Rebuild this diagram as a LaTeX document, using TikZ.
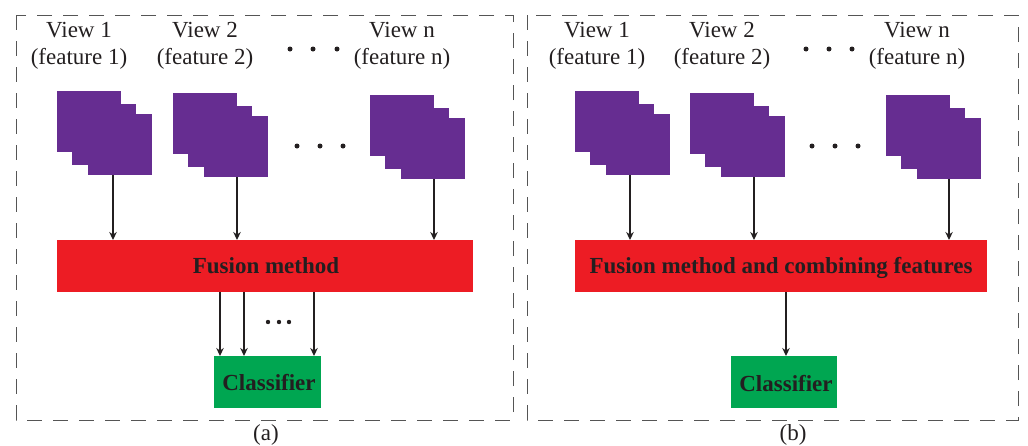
\documentclass[tikz,border=0pt]{standalone}
\usepackage{fontspec}
\setmainfont{Liberation Serif}
\usetikzlibrary{arrows.meta}
\definecolor{vpurple}{HTML}{662D91}
\definecolor{fred}{HTML}{ED1C24}
\definecolor{cgreen}{HTML}{00A651}
\definecolor{ink}{HTML}{231F20}
\definecolor{dashc}{HTML}{555555}
\tikzset{
  sq/.style={fill=vpurple, minimum width=64pt, minimum height=61pt, inner sep=0pt, anchor=north west},
  lbl/.style={font=\fontsize{23}{27}\selectfont, text=ink, anchor=base, inner sep=0pt},
  blbl/.style={font=\fontsize{23}{27}\selectfont\bfseries, text=ink, anchor=base, inner sep=0pt},
  fusionbox/.style={fill=fred, anchor=north west, inner sep=0pt},
  clsbox/.style={fill=cgreen, anchor=north west, inner sep=0pt},
  arr/.style={draw=ink, line width=1.2pt, -{Stealth[length=8pt,width=7.5pt]}},
  panel/.style={draw=dashc, line width=1pt, dash pattern=on 15pt off 11pt},
  dotc/.style={fill=ink}
}
\newcommand\mystack[3]{%
  \node[sq] (#1b) at (#2,#3) {};
  \node[sq] (#1m) at (#2+15,#3+13) {};
  \node[sq] (#1f) at (#2+31,#3+23) {};
}
\begin{document}
\begin{tikzpicture}[x=1pt,y=-1pt]
\useasboundingbox (0,0) rectangle (1028,445);
% panels
\draw[panel] (16,15) rectangle (513,420);
\draw[panel] (527,15) rectangle (1018,420);

% ---------- panel (a) ----------
\node[lbl] (a1v) at (79,37) {View 1};
\node[lbl] (a1f) at (79,64) {(feature 1)};
\node[lbl] (a2v) at (205,37) {View 2};
\node[lbl] (a2f) at (205,64) {(feature 2)};
\node[lbl] (anv) at (402,37) {View n};
\node[lbl] (anf) at (402,64) {(feature n)};
\foreach \x in {290,313,337} \fill[dotc] (\x,49) circle (2.5);

\mystack{aA}{57}{91}
\mystack{aB}{173}{93}
\mystack{aN}{370}{95}
\foreach \x in {297,320,343} \fill[dotc] (\x,146) circle (2.5);

\node[fusionbox, minimum width=416pt, minimum height=52pt] (afu) at (57,240) {};
\node[blbl] (afut) at (266,273) {Fusion method};
\node[clsbox, minimum width=107pt, minimum height=52pt] (acl) at (214,356) {};
\node[blbl] (aclt) at (269,390) {Classifier};

\coordinate (xa1) at (113,0);
\coordinate (xa2) at (237,0);
\coordinate (xa3) at (434,0);
\draw[arr] (aAf.south -| xa1) -- (afu.north -| xa1);
\draw[arr] (aBf.south -| xa2) -- (afu.north -| xa2);
\draw[arr] (aNf.south -| xa3) -- (afu.north -| xa3);

\coordinate (xc1) at (220,0);
\coordinate (xc2) at (244,0);
\coordinate (xc3) at (314,0);
\draw[arr] (afu.south -| xc1) -- (acl.north -| xc1);
\draw[arr] (afu.south -| xc2) -- (acl.north -| xc2);
\draw[arr] (afu.south -| xc3) -- (acl.north -| xc3);
\foreach \x in {268,279,289} \fill[dotc] (\x,322) circle (2.2);

\node[lbl] (capa) at (266,440) {(a)};

% ---------- panel (b) ----------
\node[lbl] (b1v) at (597,37) {View 1};
\node[lbl] (b1f) at (597,64) {(feature 1)};
\node[lbl] (b2v) at (722,37) {View 2};
\node[lbl] (b2f) at (722,64) {(feature 2)};
\node[lbl] (bnv) at (917,37) {View n};
\node[lbl] (bnf) at (917,64) {(feature n)};
\foreach \x in {806,829,852} \fill[dotc] (\x,49) circle (2.5);

\mystack{bA}{575}{91}
\mystack{bB}{690}{93}
\mystack{bN}{886}{95}
\foreach \x in {812,835,858} \fill[dotc] (\x,146) circle (2.5);

\node[fusionbox, minimum width=412pt, minimum height=52pt] (bfu) at (575,240) {};
\node[blbl] (bfut) at (781,273) {Fusion method and combining features};
\node[clsbox, minimum width=106pt, minimum height=52pt] (bcl) at (731,356) {};
\node[blbl] (bclt) at (786,391) {Classifier};

\coordinate (xb1) at (630,0);
\coordinate (xb2) at (754,0);
\coordinate (xb3) at (949,0);
\draw[arr] (bAf.south -| xb1) -- (bfu.north -| xb1);
\draw[arr] (bBf.south -| xb2) -- (bfu.north -| xb2);
\draw[arr] (bNf.south -| xb3) -- (bfu.north -| xb3);
\coordinate (xd1) at (786,0);
\draw[arr] (bfu.south -| xd1) -- (bcl.north -| xd1);

\node[lbl] (capb) at (793,440) {(b)};
\end{tikzpicture}
\end{document}
